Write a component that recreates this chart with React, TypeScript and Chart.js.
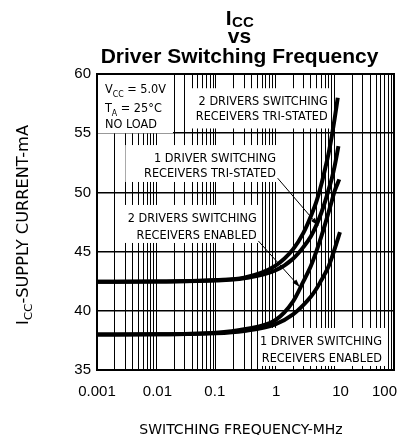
import React, { useEffect, useRef } from "react";
import { Chart, registerables } from "chart.js";

Chart.register(...registerables);

// ---- data ----
const FREQ_A = [0.001, 0.01, 0.1, 0.3, 1, 2, 3, 4, 5, 6, 7, 8, 9, 10, 11.3];
const ICC_A = [42.45, 42.47, 42.6, 42.8, 43.8, 45.2, 46.6, 48.0, 49.3, 50.7, 52.1, 53.4, 54.8, 56.2, 58.0];
const FREQ_B = [0.001, 0.01, 0.1, 0.3, 1, 2, 3, 4, 5, 6, 7, 8, 9, 10, 11.6];
const ICC_B = [42.45, 42.47, 42.55, 42.75, 43.4, 44.4, 45.4, 46.3, 47.3, 48.3, 49.3, 50.3, 51.2, 52.2, 53.9];
const FREQ_C = [0.001, 0.01, 0.1, 0.3, 1, 2, 3, 4, 5, 6, 7, 8, 9, 10, 12];
const ICC_C = [38.0, 38.02, 38.15, 38.45, 39.2, 40.8, 42.5, 43.8, 45.1, 46.3, 47.4, 48.4, 49.3, 50.1, 51.1];
const FREQ_D = [0.001, 0.01, 0.1, 0.3, 1, 2, 3, 4, 5, 6, 7, 8, 9, 10, 12.3];
const ICC_D = [38.0, 38.02, 38.1, 38.3, 38.85, 39.7, 40.5, 41.2, 41.9, 42.6, 43.2, 43.8, 44.5, 45.2, 46.65];

const X_DECADES = [0.001, 0.01, 0.1, 1, 10, 100];
const X_TICK_LABELS = ["0.001", "0.01", "0.1", "1", "10", "100"];
const X_MINOR_MULT = [2, 3, 4, 5, 6, 7, 8, 9];
const Y_MIN = 35;
const Y_MAX = 60;
const Y_STEP = 5;

const TITLE_MAIN = "Driver Switching Frequency";
const X_TITLE = "SWITCHING FREQUENCY-MHz";
const Y_TITLE_REST = "-SUPPLY CURRENT-mA";

// label nudges (style only)
const X_LABEL_SHIFT = [0, 1, -1, 1, 6, 0];

// ---- annotation layout (data coordinates) ----
type Seg = { t: string; sub?: boolean };
type Box = {
  f0: number; f1: number; v0: number; v1: number;
  tx: number; align: "left" | "right";
  lines: { v: number; segs: Seg[] }[];
};
const BOXES: Box[] = [
  {
    f0: 0.001, f1: 0.019, v0: 60, v1: 55, tx: 0.00136, align: "left",
    lines: [
      { v: 58.4, segs: [{ t: "V" }, { t: "CC", sub: true }, { t: " = 5.0V" }] },
      { v: 56.75, segs: [{ t: "T" }, { t: "A", sub: true }, { t: " = 25°C" }] },
      { v: 55.45, segs: [{ t: "NO LOAD" }] },
    ],
  },
  {
    f0: 0.034, f1: 8.7, v0: 58.8, v1: 55.4, tx: 7.66, align: "right",
    lines: [
      { v: 57.38, segs: [{ t: "2 DRIVERS SWITCHING" }] },
      { v: 56.11, segs: [{ t: "RECEIVERS TRI-STATED" }] },
    ],
  },
  {
    f0: 0.003, f1: 1.35, v0: 54.0, v1: 50.88, tx: 1.03, align: "right",
    lines: [
      { v: 52.57, segs: [{ t: "1 DRIVER SWITCHING" }] },
      { v: 51.3, segs: [{ t: "RECEIVERS TRI-STATED" }] },
    ],
  },
  {
    f0: 0.0024, f1: 0.6, v0: 48.94, v1: 45.73, tx: 0.489, align: "right",
    lines: [
      { v: 47.5, segs: [{ t: "2 DRIVERS SWITCHING" }] },
      { v: 46.06, segs: [{ t: "RECEIVERS ENABLED" }] },
    ],
  },
  {
    f0: 0.513, f1: 76, v0: 38.55, v1: 35.34, tx: 62.8, align: "right",
    lines: [
      { v: 37.11, segs: [{ t: "1 DRIVER SWITCHING" }] },
      { v: 35.68, segs: [{ t: "RECEIVERS ENABLED" }] },
    ],
  },
];
const ARROWS = [
  { f0: 1.1, v0: 51.2, f1: 5.3, v1: 47.2 },
  { f0: 0.52, v0: 45.9, f1: 2.6, v1: 42.0 },
];

const CAD_FONT = "DejaVu Sans";
const CAD_SIZE = 13;
const CAD_SX = 0.87;

function segWidth(ctx: CanvasRenderingContext2D, segs: Seg[], size: number, sx: number) {
  let w = 0;
  for (const s of segs) {
    ctx.font = `${s.sub ? Math.round(size * 0.7) : size}px "${CAD_FONT}"`;
    w += ctx.measureText(s.t).width * sx;
  }
  return w;
}
function drawSegs(ctx: CanvasRenderingContext2D, segs: Seg[], x: number, y: number, size: number, sx: number) {
  let cx = x;
  for (const s of segs) {
    const sz = s.sub ? Math.round(size * 0.7) : size;
    ctx.font = `${sz}px "${CAD_FONT}"`;
    const w = ctx.measureText(s.t).width * sx;
    ctx.save();
    ctx.translate(cx, y + (s.sub ? size * 0.28 : 0));
    ctx.scale(sx, 1);
    ctx.textAlign = "left";
    ctx.textBaseline = "alphabetic";
    ctx.fillText(s.t, 0, 0);
    ctx.restore();
    cx += w;
  }
}

const decoPlugin = {
  id: "deco",
  beforeDatasetsDraw(chart: any) {
    const { ctx, scales } = chart;
    const xs = scales.x, ys = scales.y;
    ctx.save();
    for (const b of BOXES) {
      const x0 = xs.getPixelForValue(b.f0), x1 = xs.getPixelForValue(b.f1);
      const y0 = ys.getPixelForValue(b.v0), y1 = ys.getPixelForValue(b.v1);
      ctx.fillStyle = "#fff";
      ctx.fillRect(x0, y0, x1 - x0, y1 - y0);
      ctx.fillStyle = "#000";
      const tx = xs.getPixelForValue(b.tx);
      for (const ln of b.lines) {
        const w = segWidth(ctx, ln.segs, CAD_SIZE, CAD_SX);
        const lx = b.align === "right" ? tx - w : tx;
        drawSegs(ctx, ln.segs, lx, ys.getPixelForValue(ln.v), CAD_SIZE, CAD_SX);
      }
    }
    ctx.restore();
  },
  afterDatasetsDraw(chart: any) {
    const { ctx, scales, chartArea } = chart;
    const xs = scales.x, ys = scales.y;
    ctx.save();
    ctx.strokeStyle = "#000";
    ctx.fillStyle = "#000";
    for (const a of ARROWS) {
      const x0 = xs.getPixelForValue(a.f0), y0 = ys.getPixelForValue(a.v0);
      const x1 = xs.getPixelForValue(a.f1), y1 = ys.getPixelForValue(a.v1);
      ctx.lineWidth = 1;
      ctx.beginPath();
      ctx.moveTo(x0, y0);
      ctx.lineTo(x1, y1);
      ctx.stroke();
      const ang = Math.atan2(y1 - y0, x1 - x0);
      const L = 8, W = 2.5;
      ctx.beginPath();
      ctx.moveTo(x1, y1);
      ctx.lineTo(x1 - L * Math.cos(ang) + W * Math.sin(ang), y1 - L * Math.sin(ang) - W * Math.cos(ang));
      ctx.lineTo(x1 - L * Math.cos(ang) - W * Math.sin(ang), y1 - L * Math.sin(ang) + W * Math.cos(ang));
      ctx.closePath();
      ctx.fill();
    }
    ctx.lineWidth = 2;
    ctx.strokeRect(chartArea.left, chartArea.top, chartArea.right - chartArea.left, chartArea.bottom - chartArea.top);

    // x tick labels (decades only)
    ctx.font = '15px "Liberation Sans"';
    ctx.textBaseline = "alphabetic";
    X_DECADES.forEach((d, i) => {
      const px = xs.getPixelForValue(d);
      const last = i === X_DECADES.length - 1;
      ctx.textAlign = last ? "right" : "center";
      ctx.fillText(X_TICK_LABELS[i], last ? chartArea.right + 3 : px + X_LABEL_SHIFT[i], chartArea.bottom + 26);
    });
    ctx.restore();
  },
  afterDraw(chart: any) {
    const { ctx, chartArea } = chart;
    ctx.save();
    ctx.fillStyle = "#000";
    ctx.textBaseline = "alphabetic";
    const cx = (chartArea.left + chartArea.right) / 2 - 6;
    // Title line 1: I_CC
    ctx.font = 'bold 21px "Liberation Sans"';
    const wI = ctx.measureText("I").width;
    ctx.font = 'bold 15px "Liberation Sans"';
    const wCC = ctx.measureText("CC").width;
    const sx = cx - (wI + wCC) / 2;
    ctx.font = 'bold 21px "Liberation Sans"';
    ctx.textAlign = "left";
    ctx.fillText("I", sx, 17);
    ctx.font = 'bold 15px "Liberation Sans"';
    ctx.fillText("CC", sx + wI + 0.5, 19);
    ctx.font = 'bold 21px "Liberation Sans"';
    ctx.textAlign = "center";
    ctx.fillText("vs", cx, 34.5);
    ctx.fillText(TITLE_MAIN, cx, 54.5);

    // X axis title
    ctx.font = `14px "${CAD_FONT}"`;
    ctx.textAlign = "center";
    ctx.fillText(X_TITLE, cx + 1.5, 426);

    // Y axis title (rotated)
    ctx.save();
    ctx.translate(20, (chartArea.top + chartArea.bottom) / 2 + 3);
    ctx.rotate(-Math.PI / 2);
    const segs: Seg[] = [{ t: "I" }, { t: "CC", sub: true }, { t: Y_TITLE_REST }];
    const ysx = 1.08;
    const w = segWidth(ctx, segs, 15, ysx);
    drawSegs(ctx, segs, -w / 2, 0, 15, ysx);
    ctx.restore();
    ctx.restore();
  },
};

export default function App() {
  const ref = useRef<HTMLCanvasElement | null>(null);
  useEffect(() => {
    if (!ref.current) return;
    const mk = (fs: number[], vs: number[]) => fs.map((f, i) => ({ x: f, y: vs[i] }));
    const ds = (data: any) => ({
      data,
      borderColor: "#000",
      borderWidth: 4,
      pointRadius: 0,
      fill: false,
      cubicInterpolationMode: "monotone" as const,
    });
    const chart = new Chart(ref.current, {
      type: "line",
      data: {
        datasets: [
          ds(mk(FREQ_A, ICC_A)),
          ds(mk(FREQ_B, ICC_B)),
          ds(mk(FREQ_C, ICC_C)),
          ds(mk(FREQ_D, ICC_D)),
        ],
      },
      options: {
        animation: false,
        responsive: true,
        maintainAspectRatio: false,
        layout: { padding: { top: 66, right: 6, left: 0, bottom: 0 } },
        plugins: { legend: { display: false }, tooltip: { enabled: false }, title: { display: false } },
        scales: {
          x: {
            type: "logarithmic",
            min: X_DECADES[0],
            max: X_DECADES[X_DECADES.length - 1],
            afterBuildTicks: (axis: any) => {
              const t: any[] = [];
              X_DECADES.forEach((d, i) => {
                t.push({ value: d });
                if (i < X_DECADES.length - 1) X_MINOR_MULT.forEach((m) => t.push({ value: m * d }));
              });
              axis.ticks = t;
            },
            afterFit: (axis: any) => {
              axis.height = 65;
              axis.paddingLeft = 0;
              axis.paddingRight = 0;
            },
            ticks: { display: false, autoSkip: false, maxRotation: 0 },
            grid: { color: "#000", lineWidth: 1, drawTicks: false },
            border: { display: false },
          },
          y: {
            type: "linear",
            min: Y_MIN,
            max: Y_MAX,
            afterFit: (axis: any) => {
              axis.width = 89;
              axis.paddingTop = 0;
              axis.paddingBottom = 0;
            },
            ticks: {
              stepSize: Y_STEP,
              padding: 6,
              color: "#000",
              font: { family: "Liberation Sans", size: 15 },
            },
            grid: { color: "#000", lineWidth: 1.5, drawTicks: false },
            border: { display: false },
          },
        },
      },
      plugins: [decoPlugin],
    });
    return () => chart.destroy();
  }, []);
  return (
    <div style={{ width: 392, height: 427, position: "relative" }}>
      <canvas ref={ref} />
    </div>
  );
}
